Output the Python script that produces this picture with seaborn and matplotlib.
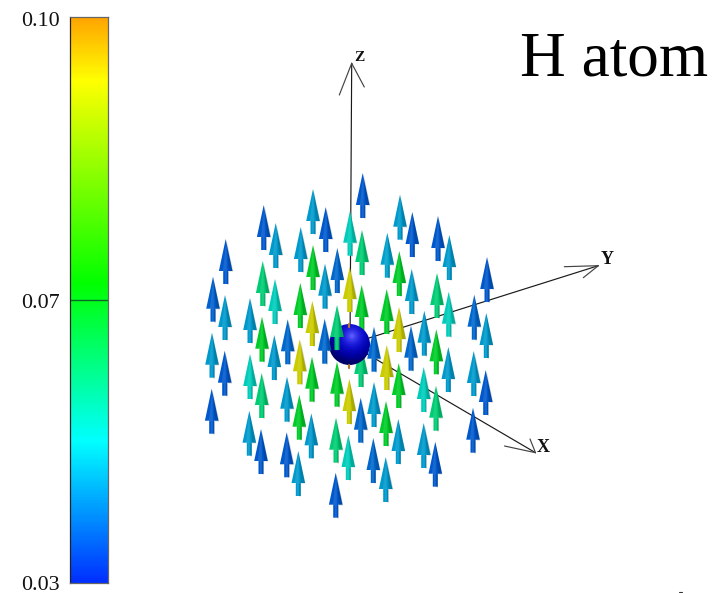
"""
H atom: arrow field around the atom with a colour scale on the left
"""

import numpy as np
import matplotlib

matplotlib.use("Agg")
import matplotlib.pyplot as plt
from matplotlib.colors import LinearSegmentedColormap, TwoSlopeNorm
from matplotlib.patches import Circle
from matplotlib.path import Path
import seaborn as sns

W, H = 726, 593

# arrow tips in picture coordinates and the value each one is coloured by
ARROW_X = [
    225.7, 213, 225, 212, 250, 263.7, 275.7, 262.7, 275, 262, 300.7, 313, 325.7,
    313, 325, 337.3, 300.3, 312.3, 350, 349.7, 287.7, 274.3, 299.7, 362.7, 400,
    412.3, 438, 449.3, 362, 387.3, 399.3, 411.7, 437, 448.7, 487, 474.3, 486.3,
    361.7, 386.7, 399, 424.3, 436.3, 411, 386.7, 448.3, 473.7, 485.7, 398.7,
    423.7, 436, 361, 374, 360.7, 386, 349.3, 398.3, 423.7, 473, 435.3, 373.3,
    385.7, 224.7, 250, 261.7, 211.7, 249.3, 261, 287, 299.3, 312, 337, 311.3,
    336, 348.3, 286.7, 298.3, 335.7,
]
ARROW_Y = [
    239, 276.7, 295, 332.7, 298, 205, 223, 261, 279, 316.7, 227, 189, 207,
    245, 263.7, 248, 283, 301, 210.7, 267, 319.3, 335, 339.3, 173, 194.7,
    212, 216, 235, 230, 232.7, 251, 269, 273, 291.7, 257, 294.7, 313,
    285, 289, 307, 310.7, 329.3, 325.7, 345, 347, 351, 370, 363,
    367, 385.7, 342, 382, 397.7, 401, 379, 419, 423, 407.7, 441.7, 438,
    457, 350.7, 354, 373, 388.7, 410.7, 429, 376.7, 394.7, 356.7, 361.7, 413.3,
    417.7, 435, 432.3, 451, 472.7,
]
ARROW_VALUE = [
    0.036, 0.037, 0.044, 0.044, 0.044, 0.036, 0.044, 0.060, 0.052, 0.068, 0.044, 0.044, 0.036,
    0.068, 0.044, 0.038, 0.068, 0.093, 0.052, 0.093, 0.038, 0.044, 0.093, 0.036, 0.044,
    0.036, 0.036, 0.044, 0.060, 0.045, 0.068, 0.044, 0.060, 0.052, 0.036, 0.038, 0.044,
    0.068, 0.068, 0.093, 0.044, 0.068, 0.038, 0.093, 0.044, 0.044, 0.036, 0.068,
    0.052, 0.060, 0.060, 0.044, 0.038, 0.068, 0.093, 0.044, 0.044, 0.036, 0.036, 0.038,
    0.044, 0.036, 0.052, 0.060, 0.036, 0.044, 0.036, 0.044, 0.068, 0.068, 0.068, 0.044,
    0.060, 0.052, 0.036, 0.044, 0.036,
]
# these sit in front of the sphere, the others behind it
FRONT_X = [337, 324.7, 374]
FRONT_Y = [305, 318.7, 326.7]
FRONT_VALUE = [0.060, 0.038, 0.038]

# colour scale
SCALE_TICKS = [0.10, 0.07, 0.03]
SCALE_LABEL_Y = [26, 308, 589.5]
SCALE_STOPS = [0.0, 0.25, 0.53, 0.89, 1.0]
SCALE_COLORS = ["#0030ff", "#00ffff", "#00ff00", "#ffff00", "#ffa500"]

# axes of the 3d view: origin, tip, two barbs, label
ORIGIN = (350, 344)
AXIS_NAMES = ["Z", "Y", "X"]
AXIS_TIPS = [(351.7, 63.3), (598.3, 265.7), (535.5, 452.7)]
AXIS_BARBS = [
    [(339.3, 95), (364.3, 87)],
    [(564.3, 266.7), (583.3, 277.7)],
    [(504.5, 446), (530, 439)],
]
AXIS_LABELS = [(359, 57.5), (606.7, 260), (543, 447.5)]
AXIS_LABEL_SIZE = [11, 13, 13]

SPHERE_X, SPHERE_Y, SPHERE_R = 349.5, 344.5, 20.5


def arrow_marker(left, right):
    """Upright arrow with its tip on (0, 0), cut to the band left..right of the full width"""
    length, head, half_head, half_shaft = 45.0, 32.0, 6.8, 2.5
    # band reaches y=-length too, so the marker scaling stays the same
    verts = [
        (0, 0),
        (right * half_head, -head), (right * half_shaft, -head), (right * half_shaft, -length),
        (left * half_shaft, -length), (left * half_shaft, -head), (left * half_head, -head),
        (0, 0),
    ]
    return Path(verts, closed=True)


def draw_arrows(ax, xs, ys, values, zorder):
    """One layer of arrows: flat colour, then lighter and darker bands for the cone look"""
    size = (2 * 45 * 72 / 100) ** 2
    sns.scatterplot(
        x=xs, y=ys, hue=values, palette=arrow_cmap, hue_norm=norm,
        marker=arrow_marker(-1, 1), s=size, linewidth=0, legend=False, ax=ax, zorder=zorder,
    )
    sns.scatterplot(
        x=xs, y=ys, color="black", alpha=0.16,
        marker=arrow_marker(0.35, 1), s=size, linewidth=0, legend=False, ax=ax, zorder=zorder,
    )
    sns.scatterplot(
        x=xs, y=ys, color="white", alpha=0.10,
        marker=arrow_marker(-0.55, 0.05), s=size, linewidth=0, legend=False, ax=ax, zorder=zorder,
    )


sns.set_theme(style="white")
plt.rcParams["font.family"] = ["Liberation Serif", "DejaVu Serif"]

scale_cmap = LinearSegmentedColormap.from_list("scale", list(zip(SCALE_STOPS, SCALE_COLORS)))
# arrows are lit, so their colours are a bit darker than the scale
arrow_colors = [np.array(matplotlib.colors.to_rgb(c)) * 0.8 for c in SCALE_COLORS]
arrow_cmap = LinearSegmentedColormap.from_list("arrows", list(zip(SCALE_STOPS, arrow_colors)))
norm = TwoSlopeNorm(vmin=0.03, vcenter=0.07, vmax=0.10)

fig = plt.figure(figsize=(W / 100, H / 100), dpi=100)
ax = fig.add_axes([0, 0, 1, 1])
ax.set_xlim(0, W)
ax.set_ylim(H, 0)
ax.axis("off")

# axes of the view
for tip, barbs, name, pos, size in zip(AXIS_TIPS, AXIS_BARBS, AXIS_NAMES, AXIS_LABELS, AXIS_LABEL_SIZE):
    ax.plot([ORIGIN[0], tip[0]], [ORIGIN[1], tip[1]], color="#1a1a1a", lw=0.85, zorder=1)
    for barb in barbs:
        ax.plot([tip[0], barb[0]], [tip[1], barb[1]], color="#444444", lw=0.85, zorder=1)
    ax.text(pos[0], pos[1], name, fontsize=size, fontweight="bold", color="#111111",
            ha="center", va="center")

draw_arrows(ax, ARROW_X, ARROW_Y, ARROW_VALUE, 2)

# sphere at the origin, shaded from the upper right
grid_y, grid_x = np.mgrid[-1:1:120j, -1:1:120j]
light = np.clip(1 - np.hypot(grid_x - 0.12, grid_y + 0.42) / 1.25, 0, 1)
sphere = np.dstack([0.4 * light**3, 0.4 * light**3, 0.42 + 0.58 * light**0.7])
img = ax.imshow(
    sphere,
    extent=[SPHERE_X - SPHERE_R, SPHERE_X + SPHERE_R, SPHERE_Y + SPHERE_R, SPHERE_Y - SPHERE_R],
    zorder=3, aspect="auto", interpolation="bilinear",
)
img.set_clip_path(Circle((SPHERE_X, SPHERE_Y), SPHERE_R, transform=ax.transData))
ax.set_xlim(0, W)
ax.set_ylim(H, 0)

# the z axis pokes out of the sphere
ax.plot([348.8, 348.8], [323.5, 326.5], color="#b07a30", lw=1.6, zorder=4)
ax.plot([348.8, 348.8], [364.5, 367.5], color="#b07a30", lw=1.6, zorder=4)

draw_arrows(ax, FRONT_X, FRONT_Y, FRONT_VALUE, 5)

ax.text(708, 75, "H atom", fontsize=45.5, color="black", ha="right", va="baseline")
ax.plot([678.5, 681.5], [592.2, 592.2], color="#333333", lw=0.8, clip_on=False)

# colour scale as a one-column heatmap, one row per pixel
scale_ax = fig.add_axes([69.5 / W, 1 - 583 / H, 38.5 / W, 566 / H])
top = np.linspace(SCALE_TICKS[0], SCALE_TICKS[1], 283, endpoint=False)
bottom = np.linspace(SCALE_TICKS[1], SCALE_TICKS[2], 283)
sns.heatmap(
    np.concatenate([top, bottom]).reshape(-1, 1), cmap=scale_cmap, norm=norm,
    cbar=False, xticklabels=False, yticklabels=False, ax=scale_ax,
)
scale_ax.axhline(283, color="#0a6a2a", lw=1.0)
for side, spine in scale_ax.spines.items():
    spine.set_visible(True)
    spine.set_linewidth(0.9)
    spine.set_color("#222222" if side == "left" else "#666666")

for tick, label_y in zip(SCALE_TICKS, SCALE_LABEL_Y):
    ax.text(60, label_y, f"{tick:.2f}", fontsize=15.8, color="#111111", ha="right", va="baseline")

fig.savefig("out.png", dpi=100)
